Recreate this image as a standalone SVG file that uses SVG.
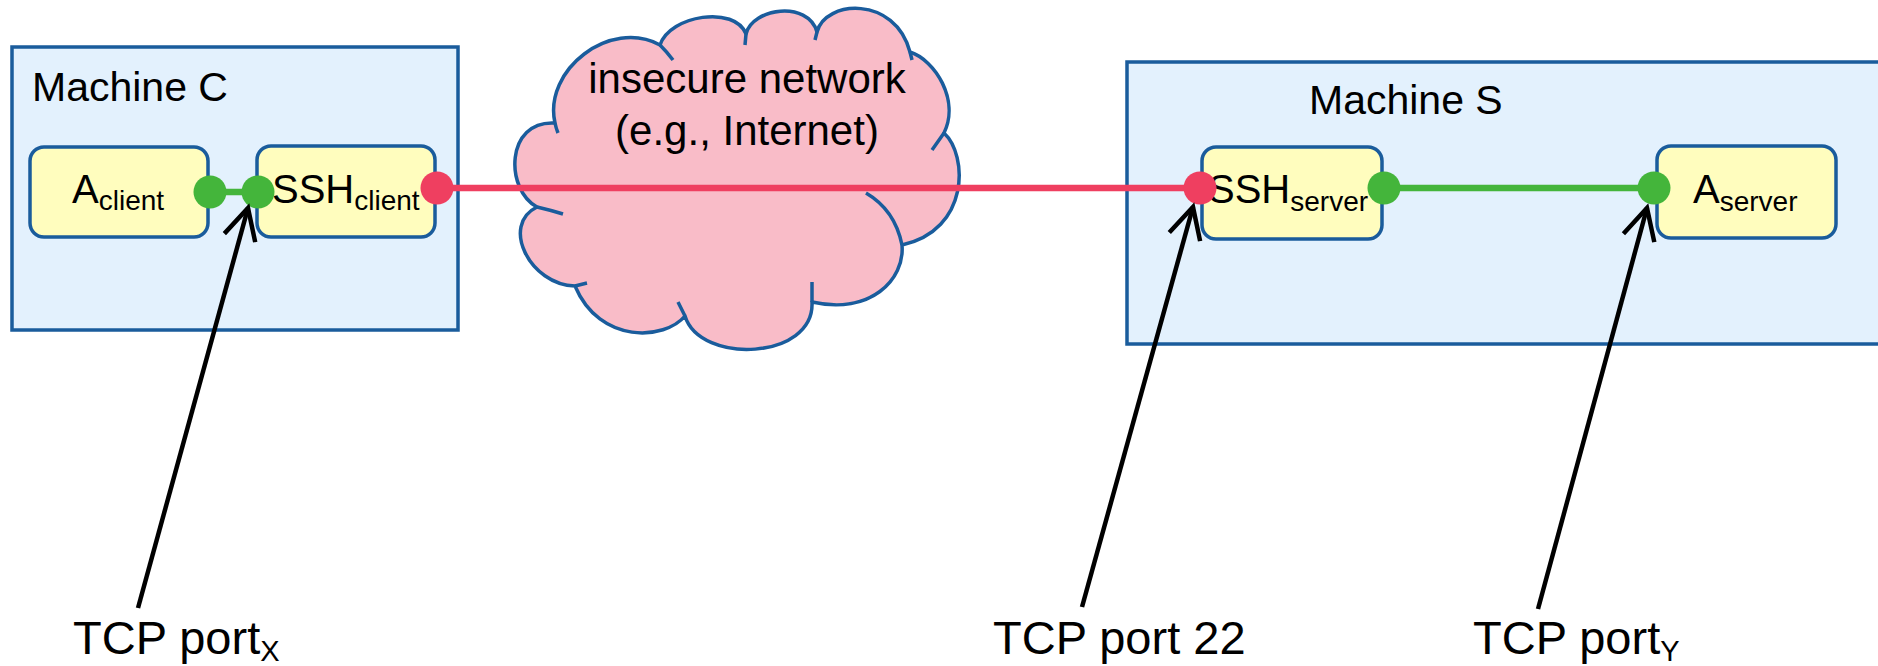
<svg xmlns="http://www.w3.org/2000/svg" width="1878" height="666" viewBox="0 0 1878 666">
  <style>
    .machine { fill: #E3F1FD; stroke: #1A5C9C; stroke-width: 3.5; }
    .box { fill: #FFFDBE; stroke: #1A5C9C; stroke-width: 3.5; }
    .cloud { fill: #F9BCC8; stroke: #1A5C9C; stroke-width: 3.5; stroke-linejoin: round; }
    .cloud-inner { fill: none; stroke: #1A5C9C; stroke-width: 3.5; }
    .txt { font-family: "Liberation Sans", Arial, sans-serif; fill: #000; }
    .sub { font-size: 28px; }
    .plain { stroke: #44B53B; stroke-width: 6.5; fill: none; }
    .secure { stroke: #EF3F60; stroke-width: 6.5; fill: none; }
    .dot-g { fill: #44B53B; }
    .dot-r { fill: #EF3F60; }
    .pointer { stroke: #000; stroke-width: 4.5; fill: none; marker-end: url(#openHead); }
  </style>
  <defs>
    <marker id="openHead" markerUnits="userSpaceOnUse" markerWidth="80" markerHeight="80" refX="0" refY="0" orient="auto" overflow="visible">
      <path d="M-31,-16 L0,0 L-31,16" fill="none" stroke="#000" stroke-width="4.5" stroke-linejoin="miter"/>
    </marker>
  </defs>

  <!-- machines -->
  <g id="machine-c">
    <rect class="machine" x="12" y="47" width="446" height="283"/>
    <text class="txt" x="32" y="101" font-size="41">Machine C</text>
  </g>
  <g id="machine-s">
    <rect class="machine" x="1127" y="62" width="780" height="282"/>
    <text class="txt" x="1309" y="114" font-size="41">Machine S</text>
  </g>

  <!-- network cloud -->
  <g id="network">
    <path class="cloud" d="M555,123 C543,70 610,18 660,45 C670,15 735,5 746,34 C752,8 808,0 817,32 C825,0 895,-5 910,52 C935,60 960,100 944,133 C968,155 970,230 902,245 C905,280 870,315 812,302 C815,360 700,365 685,316 C665,340 600,345 575,286 C530,285 500,225 537,207 C505,190 505,120 555,123 Z"/>
    <path class="cloud-inner" d="M555,123 Q556,128 558,133 M660,45 Q667,52 673,60 M746,34 L745,45 M817,32 L815,40 M910,52 L912,60 M944,133 L932,150 M866,193 Q895,210 902,245 M812,282 L812,302 M685,316 L678,302 M575,286 L587,283 M537,207 Q550,210 563,214"/>
    <text class="txt" x="747" y="93" font-size="42" text-anchor="middle">insecure network</text>
    <text class="txt" x="747" y="145" font-size="42" text-anchor="middle">(e.g., Internet)</text>
  </g>

  <!-- application and SSH nodes -->
  <g id="a-client">
    <rect class="box" x="30" y="147" width="178" height="90" rx="14"/>
    <text class="txt" x="72" y="203" font-size="40">A<tspan class="sub" dy="7">client</tspan></text>
  </g>
  <g id="ssh-client">
    <rect class="box" x="257" y="146" width="178" height="91" rx="14"/>
    <text class="txt" x="272" y="203" font-size="40">SSH<tspan class="sub" dy="7">client</tspan></text>
  </g>
  <g id="ssh-server">
    <rect class="box" x="1202" y="147" width="180" height="92" rx="14"/>
    <text class="txt" x="1208" y="203" font-size="40">SSH<tspan class="sub" dy="8">server</tspan></text>
  </g>
  <g id="a-server">
    <rect class="box" x="1657" y="146" width="179" height="92" rx="14"/>
    <text class="txt" x="1693" y="203" font-size="40">A<tspan class="sub" dy="8">server</tspan></text>
  </g>

  <!-- connections -->
  <g id="connectors">
    <line class="plain" x1="210" y1="192" x2="258" y2="192"/>
    <line class="secure" x1="437" y1="188" x2="1200" y2="188"/>
    <line class="plain" x1="1384" y1="188" x2="1654" y2="188"/>
    <circle class="dot-g" cx="210" cy="192" r="16.5"/>
    <circle class="dot-g" cx="258" cy="192" r="16.5"/>
    <circle class="dot-r" cx="437" cy="188" r="16.5"/>
    <circle class="dot-r" cx="1200" cy="188" r="16.5"/>
    <circle class="dot-g" cx="1384" cy="188" r="16.5"/>
    <circle class="dot-g" cx="1654" cy="188" r="16.5"/>
    <line class="pointer" x1="138" y1="608" x2="248" y2="208"/>
    <line class="pointer" x1="1082" y1="607" x2="1193" y2="207"/>
    <line class="pointer" x1="1538" y1="609" x2="1647" y2="208"/>
  </g>

  <!-- port labels -->
  <g id="label-port-x">
    <text class="txt" x="73" y="654" font-size="47">TCP port<tspan font-size="29" dy="7">X</tspan></text>
  </g>
  <g id="label-port-22">
    <text class="txt" x="993" y="654" font-size="47">TCP port 22</text>
  </g>
  <g id="label-port-y">
    <text class="txt" x="1473" y="654" font-size="47">TCP port<tspan font-size="29" dy="7">Y</tspan></text>
  </g>
</svg>
